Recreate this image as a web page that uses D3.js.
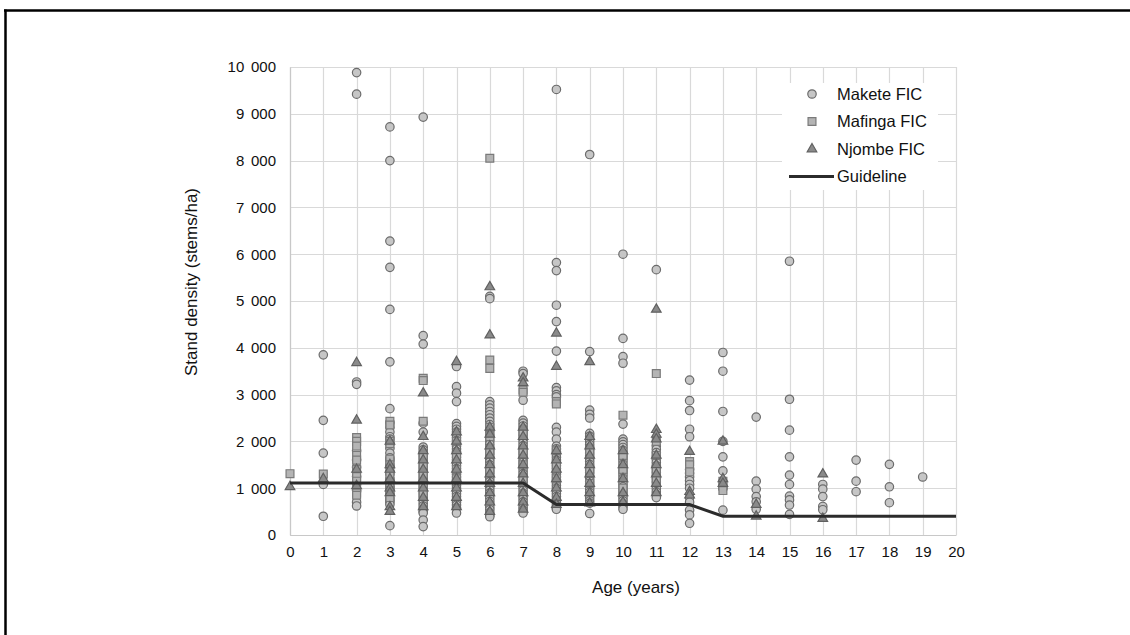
<!DOCTYPE html>
<html>
<head>
<meta charset="utf-8">
<script src="https://cdn.jsdelivr.net/npm/d3@7"></script>
<style>
  html, body { margin: 0; padding: 0; background: #fff; }
  svg { display: block; font-family: "Liberation Sans", Arial, sans-serif; }
</style>
</head>
<body>
<svg id="chart" width="1130" height="635"></svg>
<script>
// Stand density observations (stems/ha) by plantation age, one row per age
const maketeFIC = [
  { age: 1,  values: [3850, 2450, 1750, 1080, 400] },
  { age: 2,  values: [9880, 9420, 3270, 3220, 1800, 1600, 1450, 1250, 1100, 950, 700, 620] },
  { age: 3,  values: [8720, 8000, 6280, 5720, 4820, 3700, 2700, 2400, 2300, 2200, 2100, 2050, 1950, 1850, 1750, 1650, 1600, 1500, 1450, 1350, 1300, 1200, 1150, 1050, 1000, 950, 880, 800, 750, 700, 650, 200] },
  { age: 4,  values: [8930, 4260, 4080, 2390, 2200, 1880, 1820, 1760, 1700, 1640, 1580, 1520, 1460, 1400, 1340, 1280, 1220, 1160, 1100, 1040, 980, 920, 860, 800, 740, 680, 620, 560, 500, 470, 320, 180] },
  { age: 5,  values: [3600, 3170, 3030, 2850, 2380, 2320, 2260, 2200, 2140, 2080, 2020, 1960, 1900, 1840, 1780, 1720, 1660, 1600, 1540, 1480, 1420, 1360, 1300, 1240, 1180, 1120, 1060, 1000, 940, 880, 820, 760, 700, 640, 580, 470] },
  { age: 6,  values: [5100, 5050, 2850, 2780, 2710, 2640, 2570, 2500, 2430, 2360, 2290, 2220, 2150, 2080, 2010, 1940, 1870, 1800, 1740, 1680, 1620, 1560, 1500, 1440, 1380, 1320, 1260, 1200, 1140, 1080, 1020, 960, 900, 840, 780, 720, 660, 600, 540, 480, 420, 390] },
  { age: 7,  values: [3500, 3450, 2880, 2450, 2390, 2330, 2270, 2210, 2150, 2090, 2030, 1970, 1910, 1850, 1790, 1730, 1670, 1610, 1550, 1490, 1430, 1370, 1310, 1250, 1190, 1130, 1070, 1010, 950, 890, 830, 770, 710, 650, 590, 530, 470] },
  { age: 8,  values: [9520, 5820, 5650, 4910, 4560, 3930, 3150, 3080, 3000, 2950, 2300, 2200, 2050, 1900, 1840, 1780, 1720, 1660, 1600, 1540, 1480, 1420, 1360, 1300, 1240, 1180, 1120, 1060, 1000, 940, 880, 820, 760, 700, 640, 580, 550] },
  { age: 9,  values: [8130, 3920, 2670, 2580, 2500, 2170, 2110, 2050, 1990, 1930, 1870, 1810, 1750, 1690, 1630, 1570, 1510, 1450, 1390, 1330, 1270, 1210, 1150, 1090, 1030, 970, 910, 850, 790, 730, 680, 460] },
  { age: 10, values: [6000, 4200, 3810, 3670, 2370, 2050, 1990, 1930, 1870, 1810, 1750, 1690, 1630, 1570, 1510, 1450, 1390, 1330, 1270, 1210, 1150, 1090, 1030, 970, 910, 850, 790, 730, 670, 610, 550] },
  { age: 11, values: [5670, 1900, 1830, 1760, 1690, 1620, 1550, 1480, 1410, 1340, 1270, 1200, 1130, 1060, 990, 920, 860, 800] },
  { age: 12, values: [3310, 2870, 2660, 2260, 2100, 1400, 1320, 1240, 1160, 1080, 1000, 800, 700, 530, 430, 250] },
  { age: 13, values: [3900, 3500, 2640, 2000, 1670, 1370, 1000, 530] },
  { age: 14, values: [2520, 1150, 980, 820, 710, 550] },
  { age: 15, values: [5850, 2900, 2240, 1670, 1280, 1080, 830, 750, 640, 440] },
  { age: 16, values: [1080, 980, 820, 610, 540] },
  { age: 17, values: [1600, 1150, 925] },
  { age: 18, values: [1510, 1030, 690] },
  { age: 19, values: [1240] }
];

const mafingaFIC = [
  { age: 0,  values: [1310] },
  { age: 1,  values: [1300] },
  { age: 2,  values: [2080, 2000, 1900, 1700, 1600, 1400, 1250, 1150, 1000, 900, 850] },
  { age: 3,  values: [2430, 2350, 2000, 1950, 1620, 1500, 1300, 1100, 950, 800] },
  { age: 4,  values: [3350, 3300, 2430, 1700, 1500, 1300, 1100, 900] },
  { age: 5,  values: [2000, 1700, 1400, 1200] },
  { age: 6,  values: [8050, 3740, 3560, 2300, 2100, 1800, 1400] },
  { age: 7,  values: [3100, 3050, 2200, 1800, 1500, 1200] },
  { age: 8,  values: [2850, 2800, 1800, 1500, 1200] },
  { age: 9,  values: [1800, 1400, 1100] },
  { age: 10, values: [2560, 1700, 1400, 1000] },
  { age: 11, values: [3450, 2000, 1700, 1400, 1200] },
  { age: 12, values: [1570, 1500, 1350] },
  { age: 13, values: [1150, 1050, 950] }
];

const njombeFIC = [
  { age: 0,  values: [1030] },
  { age: 1,  values: [1200] },
  { age: 2,  values: [3680, 2450, 1400, 1050] },
  { age: 3,  values: [2000, 1500, 1400, 1200, 1000, 900, 600, 500] },
  { age: 4,  values: [3030, 2100, 1800, 1600, 1400, 1200, 1000, 800, 600] },
  { age: 5,  values: [3700, 2200, 2000, 1800, 1600, 1400, 1200, 1000, 800, 600] },
  { age: 6,  values: [5300, 4270, 2300, 2150, 1900, 1700, 1500, 1300, 1100, 900, 700, 500] },
  { age: 7,  values: [3350, 3250, 2300, 2100, 1900, 1700, 1500, 1300, 1100, 900, 700, 550] },
  { age: 8,  values: [4310, 3600, 1800, 1600, 1400, 1200, 1000, 800, 650] },
  { age: 9,  values: [3700, 2100, 1900, 1700, 1500, 1300, 1100, 900, 680] },
  { age: 10, values: [1800, 1500, 1200, 900, 700] },
  { age: 11, values: [4820, 2250, 2150, 2050, 1700, 1500, 1300, 1100, 900] },
  { age: 12, values: [1780, 925, 850] },
  { age: 13, values: [2000, 1200, 1100] },
  { age: 14, values: [650, 400] },
  { age: 16, values: [1300, 350] }
];

// Recommended stocking guideline
const guidelineAge = [0, 7, 8, 12, 13, 20];
const guidelineDensity = [1111, 1111, 650, 650, 400, 400];

const xTicks = d3.range(0, 21);
const yTicks = d3.range(0, 10001, 1000);
const legendLabels = ["Makete FIC", "Mafinga FIC", "Njombe FIC", "Guideline"];

const svg = d3.select("#chart");
const W = 1130, H = 635;
const plot = { left: 290, right: 956, top: 67, bottom: 535 };

svg.append("rect").attr("width", W).attr("height", H).attr("fill", "#fff");

// outer frame (top and left edges)
svg.append("line").attr("x1", 4).attr("x2", W).attr("y1", 10.5).attr("y2", 10.5)
  .attr("stroke", "#000").attr("stroke-width", 2.5);
svg.append("line").attr("x1", 5.5).attr("x2", 5.5).attr("y1", 9.5).attr("y2", H)
  .attr("stroke", "#000").attr("stroke-width", 2.5);

const x = d3.scaleLinear().domain([0, 20]).range([plot.left, plot.right]);
const y = d3.scaleLinear().domain([0, 10000]).range([plot.bottom, plot.top]);

// gridlines
const grid = svg.append("g").attr("stroke", "#d9d9d9").attr("stroke-width", 1.2);
grid.selectAll("line.v").data(xTicks).join("line").attr("class", "v")
  .attr("x1", d => Math.round(x(d)) + 0.5).attr("x2", d => Math.round(x(d)) + 0.5)
  .attr("y1", plot.top).attr("y2", plot.bottom);
grid.selectAll("line.h").data(yTicks).join("line").attr("class", "h")
  .attr("x1", plot.left).attr("x2", plot.right)
  .attr("y1", d => Math.round(y(d)) + 0.5).attr("y2", d => Math.round(y(d)) + 0.5);

// axes
const fmt = d => d3.format(",")(d).replace(/,/g, " ");
const yAxis = svg.append("g").attr("transform", `translate(${plot.left},0)`)
  .call(d3.axisLeft(y).tickValues(yTicks).tickFormat(fmt).tickSize(0).tickPadding(14));
yAxis.select(".domain").attr("stroke", "#c8c8c8").attr("stroke-width", 1.2);
yAxis.selectAll("text").attr("font-size", 15).attr("fill", "#111")
  .style("word-spacing", "2.5px");

const xAxis = svg.append("g").attr("transform", `translate(0,${plot.bottom})`)
  .call(d3.axisBottom(x).tickValues(xTicks).tickFormat(d3.format("d")).tickSize(0).tickPadding(11));
xAxis.select(".domain").attr("stroke", "#c8c8c8").attr("stroke-width", 1.2);
xAxis.selectAll("text").attr("font-size", 15).attr("fill", "#111");

// axis titles
svg.append("text").attr("x", 636).attr("y", 593).attr("text-anchor", "middle")
  .attr("font-size", 17).attr("fill", "#111").text("Age (years)");
svg.append("text").attr("transform", "translate(197,282) rotate(-90)")
  .attr("text-anchor", "middle").attr("font-size", 17).attr("fill", "#111")
  .text("Stand density (stems/ha)");

// marker shapes
const symCircle = d3.symbol().type(d3.symbolCircle).size(56);
const symSquare = d3.symbol().type(d3.symbolSquare).size(62);
const symTriangle = d3.symbol().type(d3.symbolTriangle).size(40);

const styles = {
  makete:  { sym: symCircle,   fill: "#c6c6c6", stroke: "#6b6b6b" },
  mafinga: { sym: symSquare,   fill: "#b4b4b4", stroke: "#7a7a7a" },
  njombe:  { sym: symTriangle, fill: "#8a8a8a", stroke: "#606060" }
};

function flatten(rows) {
  return rows.flatMap(r => r.values.map(v => ({ age: r.age, value: v })));
}

function drawSeries(rows, st) {
  svg.append("g").selectAll("path").data(flatten(rows)).join("path")
    .attr("d", st.sym)
    .attr("transform", d => `translate(${x(d.age)},${y(d.value)})`)
    .attr("fill", st.fill).attr("stroke", st.stroke).attr("stroke-width", 1.2);
}

drawSeries(maketeFIC, styles.makete);
drawSeries(mafingaFIC, styles.mafinga);
drawSeries(njombeFIC, styles.njombe);

// guideline
const guide = guidelineAge.map((a, i) => [a, guidelineDensity[i]]);
svg.append("path").datum(guide)
  .attr("d", d3.line().x(d => x(d[0])).y(d => y(d[1])))
  .attr("fill", "none").attr("stroke", "#2b2b2b").attr("stroke-width", 3);

// legend
const lg = svg.append("g");
lg.append("rect").attr("x", 782).attr("y", 83).attr("width", 156).attr("height", 107).attr("fill", "#fff");
const legendStyles = [styles.makete, styles.mafinga, styles.njombe];
legendLabels.forEach((label, i) => {
  const cy = 94 + i * 27.5;
  if (i < 3) {
    lg.append("path").attr("d", legendStyles[i].sym)
      .attr("transform", `translate(812,${cy})`)
      .attr("fill", legendStyles[i].fill).attr("stroke", legendStyles[i].stroke).attr("stroke-width", 1.2);
  } else {
    lg.append("line").attr("x1", 789).attr("x2", 834).attr("y1", cy).attr("y2", cy)
      .attr("stroke", "#2b2b2b").attr("stroke-width", 3);
  }
  lg.append("text").attr("x", 837).attr("y", cy).attr("dy", "0.35em")
    .attr("font-size", 16.5).attr("fill", "#111").text(label);
});
</script>
</body>
</html>
